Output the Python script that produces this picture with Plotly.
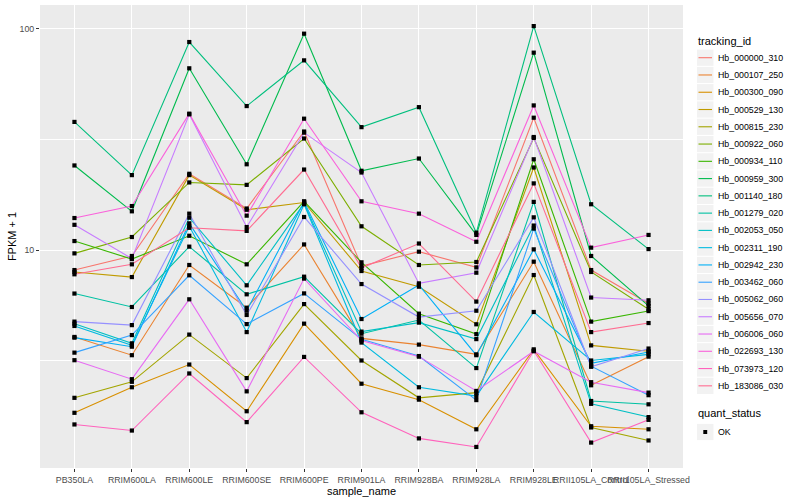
import plotly.graph_objects as go

samples = ["PB350LA", "RRIM600LA", "RRIM600LE", "RRIM600SE", "RRIM600PE", "RRIM901LA",
           "RRIM928BA", "RRIM928LA", "RRIM928LE", "RRII105LA_Control", "RRII105LA_Stressed"]

tracking_ids = ["Hb_000000_310", "Hb_000107_250", "Hb_000300_090", "Hb_000529_130",
                "Hb_000815_230", "Hb_000922_060", "Hb_000934_110", "Hb_000959_300",
                "Hb_001140_180", "Hb_001279_020", "Hb_002053_050", "Hb_002311_190",
                "Hb_002942_230", "Hb_003462_060", "Hb_005062_060", "Hb_005656_070",
                "Hb_006006_060", "Hb_022693_130", "Hb_073973_120", "Hb_183086_030"]

colors = ["#F8766D", "#EA8331", "#D89000", "#C09B00", "#A3A500", "#7CAE00", "#39B600",
          "#00BB4E", "#00BF7D", "#00C1A3", "#00BFC4", "#00BAE0", "#00B0F6", "#35A2FF",
          "#9590FF", "#C77CFF", "#E76BF3", "#FA62DB", "#FF62BC", "#FF6C91"]

# FPKM + 1 per sample (order of `samples`)
hb_000000_310 = [8.12, 9.4, 22.1, 15.4, 34.3, 8.47, 9.83, 8.35, 39.6, 8.12, 5.73]
hb_000107_250 = [4.05, 3.35, 8.56, 5.49, 10.6, 3.99, 3.74, 3.38, 8.86, 2.45, 3.30]
hb_000300_090 = [1.84, 2.40, 3.04, 1.87, 4.65, 2.49, 2.11, 1.55, 3.56, 1.60, 1.55]
hb_000529_130 = [7.96, 7.55, 21.8, 15.2, 16.4, 8.04, 6.83, 4.62, 23.6, 3.71, 3.49]
hb_000815_230 = [2.15, 2.54, 4.15, 2.64, 5.70, 3.17, 2.15, 2.27, 7.71, 1.58, 1.38]
hb_000922_060 = [9.66, 11.45, 20.2, 19.7, 31.9, 12.8, 8.56, 8.83, 32.1, 7.96, 5.40]
hb_000934_110 = [10.98, 9.1, 11.6, 8.62, 16.6, 8.8, 5.16, 4.17, 25.7, 4.75, 5.30]
hb_000959_300 = [24.1, 14.96, 66.2, 24.4, 94.9, 22.8, 25.9, 11.7, 77.9, 9.4, 5.59]
hb_001140_180 = [37.9, 21.8, 87.0, 44.7, 71.9, 35.9, 44.2, 11.98, 102.7, 16.1, 10.1]
hb_001279_020 = [6.36, 5.53, 10.36, 6.31, 7.58, 4.19, 4.83, 2.93, 16.5, 2.08, 2.01]
hb_002053_050 = [4.65, 3.79, 14.0, 6.93, 16.25, 4.28, 4.70, 3.96, 12.9, 2.02, 1.76]
hb_002311_190 = [4.54, 3.71, 12.8, 4.26, 16.1, 3.82, 2.40, 2.19, 5.25, 3.17, 3.38]
hb_002942_230 = [4.02, 3.66, 13.2, 5.32, 16.5, 4.88, 6.95, 3.35, 10.07, 3.08, 3.46]
hb_003462_060 = [3.44, 4.13, 7.69, 4.63, 6.37, 3.95, 3.32, 2.10, 12.5, 2.99, 2.21]
hb_005062_060 = [4.75, 4.58, 14.6, 5.09, 14.1, 7.02, 4.98, 5.32, 14.05, 2.97, 3.59]
hb_005656_070 = [13.0, 9.15, 41.0, 12.7, 33.9, 22.4, 7.07, 7.9, 32.4, 6.1, 5.93]
hb_006006_060 = [3.18, 2.61, 5.99, 2.30, 7.43, 3.9, 3.3, 2.31, 3.49, 2.53, 2.27]
hb_022693_130 = [13.95, 15.8, 41.3, 14.3, 39.2, 16.6, 14.6, 10.9, 45.0, 10.25, 11.7]
hb_073973_120 = [1.63, 1.53, 2.77, 1.67, 3.29, 1.85, 1.41, 1.29, 3.51, 1.35, 1.71]
hb_183086_030 = [7.77, 8.62, 12.6, 12.2, 23.1, 8.29, 10.7, 5.85, 20.0, 4.26, 4.68]

series = [hb_000000_310, hb_000107_250, hb_000300_090, hb_000529_130, hb_000815_230,
          hb_000922_060, hb_000934_110, hb_000959_300, hb_001140_180, hb_001279_020,
          hb_002053_050, hb_002311_190, hb_002942_230, hb_003462_060, hb_005062_060,
          hb_005656_070, hb_006006_060, hb_022693_130, hb_073973_120, hb_183086_030]

quant_status = ["OK"]

FONT = "Liberation Sans, Arial, sans-serif"

fig = go.Figure()
for name, col, vals in zip(tracking_ids, colors, series):
    fig.add_trace(go.Scatter(x=samples, y=vals, mode="lines", name=name,
                             line=dict(color=col, width=1.1), showlegend=False,
                             hoverinfo="x+y+name"))

all_x = [s for _ in series for s in samples]
all_y = [v for vals in series for v in vals]
fig.add_trace(go.Scatter(x=all_x, y=all_y, mode="markers", name=quant_status[0],
                         marker=dict(symbol="square", size=4.2, color="black"),
                         showlegend=False))

# plot-area geometry in pixels (for legend placement)
L, R, T, B = 40, 683, 5, 468
def xp(px):
    return (px - L) / (R - L)
def yp(py):
    return (B - py) / (B - T)

shapes = []
annotations = []
annotations.append(dict(x=xp(696), y=yp(41), xref="paper", yref="paper", text="tracking_id",
                        showarrow=False, xanchor="left", yanchor="middle",
                        font=dict(family=FONT, size=11, color="black")))
for i, (name, col) in enumerate(zip(tracking_ids, colors)):
    cy = 57.7 + i * 17.27
    shapes.append(dict(type="rect", xref="paper", yref="paper", x0=xp(697), x1=xp(713.5),
                       y0=yp(cy + 8.1), y1=yp(cy - 8.1), fillcolor="#F2F2F2",
                       line=dict(width=0), layer="below"))
    shapes.append(dict(type="line", xref="paper", yref="paper", x0=xp(698.5), x1=xp(712),
                       y0=yp(cy), y1=yp(cy), line=dict(color=col, width=1.1)))
    annotations.append(dict(x=xp(716), y=yp(cy), xref="paper", yref="paper", text=name,
                            showarrow=False, xanchor="left", yanchor="middle",
                            font=dict(family=FONT, size=8.8, color="black")))

annotations.append(dict(x=xp(696), y=yp(412.5), xref="paper", yref="paper", text="quant_status",
                        showarrow=False, xanchor="left", yanchor="middle",
                        font=dict(family=FONT, size=11, color="black")))
cy = 432
shapes.append(dict(type="rect", xref="paper", yref="paper", x0=xp(697), x1=xp(713.5),
                   y0=yp(cy + 8.1), y1=yp(cy - 8.1), fillcolor="#F2F2F2",
                   line=dict(width=0), layer="below"))
shapes.append(dict(type="rect", xref="paper", yref="paper", x0=xp(703.3), x1=xp(707.2),
                   y0=yp(cy + 2), y1=yp(cy - 2), fillcolor="black", line=dict(width=0)))
annotations.append(dict(x=xp(716), y=yp(cy), xref="paper", yref="paper", text=quant_status[0],
                        showarrow=False, xanchor="left", yanchor="middle",
                        font=dict(family=FONT, size=8.8, color="black")))

fig.update_layout(
    width=800, height=500,
    margin=dict(l=L, r=800 - R, t=T, b=500 - B),
    paper_bgcolor="white", plot_bgcolor="#EBEBEB",
    font=dict(family=FONT, size=9, color="#4D4D4D"),
    shapes=shapes, annotations=annotations,
    showlegend=False,
)
fig.update_xaxes(
    type="category", range=[-0.6, len(samples) - 0.4],
    showgrid=True, gridcolor="white", gridwidth=1.1, zeroline=False,
    ticks="outside", ticklen=3, tickcolor="#333333", tickwidth=1,
    tickangle=0, automargin=False,
    tickfont=dict(family=FONT, size=8.8, color="#4D4D4D"),
    title=dict(text="sample_name", font=dict(family=FONT, size=11, color="black"), standoff=2),
    showline=False,
)
fig.update_yaxes(
    type="log", range=[0.0155, 2.1068],
    tickvals=[10, 100], ticktext=["10", "100"],
    showgrid=True, gridcolor="white", gridwidth=1.1, zeroline=False,
    minor=dict(tickvals=[3.1623, 31.623], showgrid=True, gridcolor="white", gridwidth=0.55, ticks=""),
    ticks="outside", ticklen=3, tickcolor="#333333", tickwidth=1, automargin=False,
    tickfont=dict(family=FONT, size=8.8, color="#4D4D4D"),
    title=dict(text="FPKM + 1", font=dict(family=FONT, size=11, color="black"), standoff=0),
    showline=False,
)

fig.write_html("out.html", config={"displayModeBar": False},
               post_script="document.body.style.margin='0';document.body.style.padding='0';")
